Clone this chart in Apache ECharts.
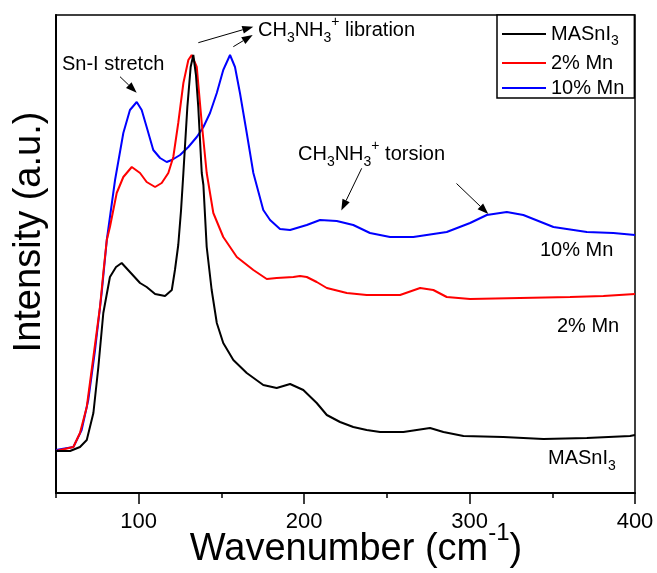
<!DOCTYPE html>
<html>
<head>
<meta charset="utf-8">
<script src="https://cdn.jsdelivr.net/npm/echarts@6/dist/echarts.min.js"></script>
<style>html,body{margin:0;padding:0;background:#fff}#c{width:657px;height:573px}</style>
</head>
<body>
<div id="c"></div>
<script>
// Wavenumber (cm-1) and intensity (a.u., offset stacked)
var blackX = [44.4, 50, 58.5, 64.5, 68.6, 72.6, 75.6, 78.6, 82.6, 86.3, 89.7, 94.7, 100.8, 104.8, 109.9, 115.9, 120.0, 121.9, 123.9, 125.6, 127.0, 129.4, 131.4, 133.0, 134.6, 136.0, 138.1, 139.1, 141.1, 144.1, 147.2, 151.1, 157.2, 165.3, 175.3, 183.4, 191.5, 199.5, 207.6, 213.7, 221.7, 229.7, 237.8, 245.9, 260.0, 276.1, 284.2, 296.3, 320.4, 344.6, 370.9, 397.0, 400];
var blackY = [42, 42, 42, 46, 53, 80, 126, 180, 216, 226, 230, 221, 210, 206, 199, 197, 203, 223, 248, 283, 320, 386, 426, 438, 418, 386, 320, 308, 246, 203, 170, 150, 133, 120, 108, 105, 109, 103, 90, 78, 71, 66, 63, 61, 61, 65, 61, 57, 56, 54, 55, 57, 58];
var redX = [50, 60.5, 64.5, 68.6, 72.6, 76.6, 78.6, 80.7, 82.6, 86.7, 90.7, 95.8, 100.8, 104.8, 109.9, 113.9, 117.9, 120.9, 123.9, 127.0, 130.0, 132.0, 135.1, 138.1, 141.1, 145.1, 151.1, 159.3, 169.3, 177.4, 183.4, 193.5, 197.5, 201.6, 207.6, 213.7, 225.8, 237.8, 258.0, 270.1, 278.1, 286.2, 300.3, 330.5, 360.8, 380.9, 400];
var redY = [42, 46, 60, 86, 136, 186, 220, 253, 266, 300, 316, 326, 320, 311, 306, 310, 320, 336, 370, 410, 433, 438, 426, 370, 320, 280, 256, 236, 223, 214, 215, 216, 217, 216, 211, 205, 200, 198, 198, 205, 203, 196, 194, 195, 196, 197, 199];
var blueX = [50, 60.5, 65.5, 69.5, 73.6, 77.6, 80.7, 85.7, 90.7, 94.7, 98.8, 101.8, 104.8, 108.8, 112.9, 116.9, 120.0, 125.0, 130.0, 135.1, 139.1, 143.1, 147.2, 151.1, 155.2, 158.2, 161.2, 165.3, 169.3, 175.3, 179.4, 185.4, 191.5, 201.6, 209.6, 219.7, 229.7, 239.8, 251.9, 266.0, 286.2, 300.3, 310.4, 322.5, 332.5, 350.7, 370.9, 386.9, 400];
var blueY = [43, 46, 63, 93, 143, 200, 253, 313, 360, 383, 391, 383, 366, 343, 335, 331, 333, 338, 346, 356, 366, 380, 400, 423, 438, 426, 400, 360, 320, 283, 273, 264, 263, 268, 273, 272, 268, 260, 256, 256, 261, 270, 278, 281, 278, 266, 261, 260, 258];
var seriesNames = ['MASnI3', '2% Mn', '10% Mn'];
var majorTicks = [100, 200, 300, 400];
var minorTicks = [50, 150, 250, 350];

function pairs(xs, ys) { return xs.map(function (x, i) { return [x, ys[i]]; }); }

var FONT = 'Liberation Sans, Arial, sans-serif';
var chemRich = {
  m: { fontSize: 20, lineHeight: 20, padding: [8, 0, 8, 0], fontFamily: FONT, color: '#000' },
  s: { fontSize: 14, lineHeight: 14, padding: [19, 0, 3, 0], fontFamily: FONT, color: '#000' },
  p: { fontSize: 14, lineHeight: 14, padding: [3, 0, 19, 0], fontFamily: FONT, color: '#000' }
};

function arrow(x1, y1, x2, y2) {
  var dx = x2 - x1, dy = y2 - y1, L = Math.sqrt(dx * dx + dy * dy);
  var ux = dx / L, uy = dy / L, hl = 11, hw = 4;
  var bx = x2 - ux * hl, by = y2 - uy * hl;
  return [
    { type: 'line', shape: { x1: x1, y1: y1, x2: bx, y2: by }, style: { stroke: '#000', lineWidth: 1 }, z: 100 },
    { type: 'polygon', shape: { points: [[x2, y2], [bx - uy * hw, by + ux * hw], [bx + uy * hw, by - ux * hw]] }, style: { fill: '#000' }, z: 100 }
  ];
}

function chemText(x, y, str) {
  return { type: 'text', x: x, y: y, z: 100, style: { text: str, rich: chemRich, textAlign: 'left', textVerticalAlign: 'middle', fill: '#000' } };
}
function plainText(x, y, str) {
  return { type: 'text', x: x, y: y, z: 100, style: { text: str, fontSize: 20, fontFamily: FONT, fill: '#000', textAlign: 'left', textVerticalAlign: 'middle' } };
}

var graphics = [];
graphics.push({ type: 'text', x: 30, y: 232, rotation: Math.PI / 2, z: 100,
  style: { text: 'Intensity (a.u.)', fontSize: 38, fontFamily: FONT, fill: '#000', textAlign: 'center', textVerticalAlign: 'middle' } });
graphics.push({ type: 'text', x: 356, y: 550, z: 100,
  style: { text: '{a|Wavenumber (cm}{s|-1}{a|)}', textAlign: 'center', textVerticalAlign: 'middle', fill: '#000',
    rich: {
      a: { fontSize: 38, lineHeight: 38, padding: [16, 0, 16, 0], fontFamily: FONT, color: '#000' },
      s: { fontSize: 24, lineHeight: 24, padding: [6, 0, 40, 0], fontFamily: FONT, color: '#000' }
    } } });
graphics.push(plainText(62, 64, 'Sn-I stretch'));
graphics.push(chemText(258, 30, '{m|CH}{s|3}{m|NH}{s|3}{p|+}{m| libration}'));
graphics.push(chemText(298, 154, '{m|CH}{s|3}{m|NH}{s|3}{p|+}{m| torsion}'));
graphics.push(plainText(540, 250, '10% Mn'));
graphics.push(plainText(557, 326, '2% Mn'));
graphics.push(chemText(548, 458, '{m|MASnI}{s|3}'));
[[120, 76.7, 136.7, 92.7], [198.3, 42.7, 253.3, 26.7], [233.3, 46.7, 252.7, 35], [361.7, 168.3, 341.3, 210.5], [456.5, 183.5, 488.3, 214]].forEach(function (a) {
  graphics = graphics.concat(arrow(a[0], a[1], a[2], a[3]));
});

var chart = echarts.init(document.getElementById('c'), null, { renderer: 'canvas' });
chart.setOption({
  animation: false,
  backgroundColor: '#fff',
  grid: { left: 56, right: 22, top: 15, bottom: 80, show: true, borderColor: '#000', borderWidth: 1.5, backgroundColor: 'transparent' },
  legend: {
    data: seriesNames,
    orient: 'vertical', left: 497, top: 15,
    padding: [5, 10, 0, 5], itemGap: 5, itemWidth: 44, itemHeight: 2, itemTextGap: 5,
    icon: 'rect',
    backgroundColor: '#fff', borderColor: '#000', borderWidth: 1.5, borderRadius: 0,
    formatter: function (n) { return n === 'MASnI3' ? '{m|MASnI}{s|3}' : '{m|' + n + '}'; },
    textStyle: { rich: {
      m: { fontSize: 20, lineHeight: 22, fontFamily: FONT, color: '#000' },
      s: { fontSize: 14, lineHeight: 14, padding: [14, 0, 0, 0], fontFamily: FONT, color: '#000' }
    } }
  },
  xAxis: [{
    type: 'value', min: 50, max: 400, interval: 50, position: 'bottom',
    axisLine: { show: true, onZero: false, lineStyle: { color: '#000', width: 2 } },
    axisTick: { show: true, inside: false, length: 11, customValues: majorTicks, lineStyle: { color: '#000', width: 1.5 } },
    axisLabel: { show: true, customValues: majorTicks, fontSize: 22, fontFamily: FONT, color: '#000', margin: 18 },
    splitLine: { show: false }
  }, {
    type: 'value', min: 50, max: 400, interval: 50, position: 'bottom', offset: 0,
    axisLine: { show: false },
    axisTick: { show: true, inside: false, length: 5, customValues: minorTicks, lineStyle: { color: '#000', width: 1.5 } },
    axisLabel: { show: false, customValues: minorTicks },
    splitLine: { show: false }
  }],
  yAxis: {
    type: 'value', min: 0, max: 478,
    axisLine: { show: true, onZero: false, lineStyle: { color: '#000', width: 2 } },
    axisTick: { show: false }, axisLabel: { show: false }, splitLine: { show: false }
  },
  series: [
    { name: seriesNames[0], type: 'line', data: pairs(blackX, blackY), showSymbol: false, clip: false, color: '#000000', lineStyle: { width: 2, color: '#000000' }, z: 3 },
    { name: seriesNames[1], type: 'line', data: pairs(redX, redY), showSymbol: false, color: '#ff0000', lineStyle: { width: 2, color: '#ff0000' }, z: 2 },
    { name: seriesNames[2], type: 'line', data: pairs(blueX, blueY), showSymbol: false, color: '#0000ff', lineStyle: { width: 2, color: '#0000ff' }, z: 1 }
  ],
  graphic: graphics
});
</script>
</body>
</html>
